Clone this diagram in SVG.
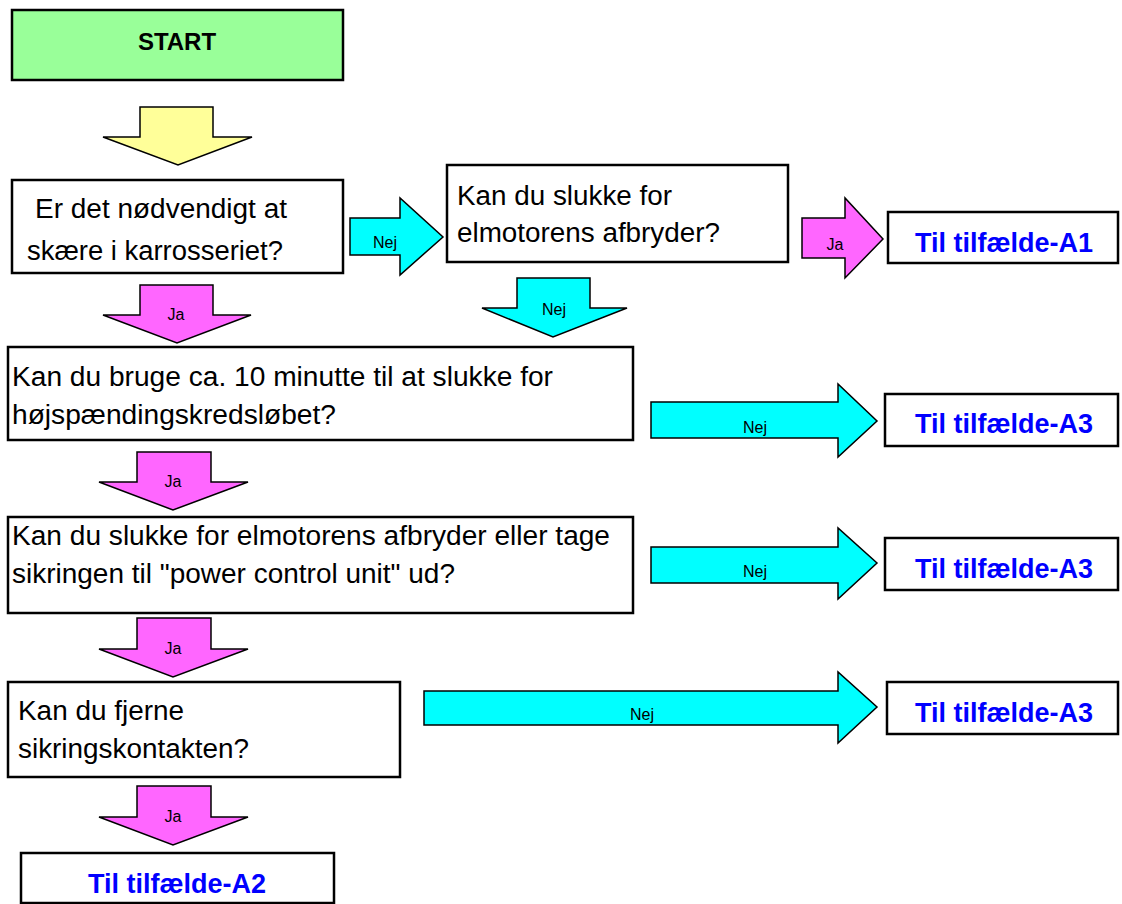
<svg xmlns="http://www.w3.org/2000/svg" width="1122" height="904" viewBox="0 0 1122 904">
<style>
.box{fill:#fff;stroke:#000;stroke-width:2.5}
.start{fill:#99ff99;stroke:#000;stroke-width:2.5}
.t{font-family:"Liberation Sans",Arial,sans-serif;font-size:27px;fill:#000}
.st{font-family:"Liberation Sans",Arial,sans-serif;font-size:24px;font-weight:bold;fill:#000;text-anchor:middle}
.res{font-family:"Liberation Sans",Arial,sans-serif;font-size:27px;font-weight:bold;fill:#0000ff;text-anchor:middle}
.lbl{font-family:"Liberation Sans",Arial,sans-serif;font-size:16px;fill:#000;text-anchor:middle}
.yel{fill:#ffff99;stroke:#000;stroke-width:1.5}
.mag{fill:#ff66ff;stroke:#000;stroke-width:1.5}
.cyn{fill:#00ffff;stroke:#000;stroke-width:1.5}
</style>
<g id="connectors">
  <polygon class="yel" points="140,107 213,107 213,137 252,137 178,165 103,137 140,137"/>
  <polygon class="mag" points="140,285 213,285 213,315 251,315 177,343 103,315 140,315"/>
  <text class="lbl" x="176" y="320">Ja</text>
  <polygon class="cyn" points="350,218 400,218 400,198 443,237 400,275 400,255 350,255"/>
  <text class="lbl" x="385" y="248">Nej</text>
  <polygon class="mag" points="802,218 845,218 845,198 883,239 845,278 845,258 802,258"/>
  <text class="lbl" x="835" y="250">Ja</text>
  <polygon class="cyn" points="517,278 590,278 590,308 627,308 553,337 482,308 517,308"/>
  <text class="lbl" x="554" y="315">Nej</text>
  <polygon class="cyn" points="651,402 838,402 838,384 877,421 838,457 838,438 651,438"/>
  <text class="lbl" x="755" y="433">Nej</text>
  <polygon class="mag" points="137,452 211,452 211,482 248,482 173,510 99,482 137,482"/>
  <text class="lbl" x="173" y="487">Ja</text>
  <polygon class="cyn" points="651,547 838,547 838,528 877,563 838,599 838,583 651,583"/>
  <text class="lbl" x="755" y="577">Nej</text>
  <polygon class="mag" points="137,618 211,618 211,649 248,649 173,677 99,649 137,649"/>
  <text class="lbl" x="173" y="654">Ja</text>
  <polygon class="cyn" points="424,691 838,691 838,672 877,707 838,743 838,725 424,725"/>
  <text class="lbl" x="642" y="720">Nej</text>
  <polygon class="mag" points="137,786 211,786 211,817 248,817 173,845 99,817 137,817"/>
  <text class="lbl" x="173" y="822">Ja</text>
</g>
<g id="start">
  <rect class="start" x="12" y="10" width="331" height="70"/>
  <text class="st" x="177" y="50">START</text>
</g>
<g id="q1">
  <rect class="box" x="12" y="180" width="331" height="93"/>
  <text class="t" x="35" y="218" textLength="252" lengthAdjust="spacingAndGlyphs">Er det nødvendigt at</text>
  <text class="t" x="27" y="260" textLength="256" lengthAdjust="spacingAndGlyphs">skære i karrosseriet?</text>
</g>
<g id="q2">
  <rect class="box" x="447" y="165" width="341" height="97"/>
  <text class="t" x="457" y="205" textLength="215" lengthAdjust="spacingAndGlyphs">Kan du slukke for</text>
  <text class="t" x="457" y="242" textLength="263" lengthAdjust="spacingAndGlyphs">elmotorens afbryder?</text>
</g>
<g id="a1">
  <rect class="box" x="888" y="212" width="230" height="51"/>
  <text class="res" x="1004" y="252">Til tilfælde-A1</text>
</g>
<g id="q3">
  <rect class="box" x="8" y="347" width="625" height="93"/>
  <text class="t" x="12" y="386" textLength="541" lengthAdjust="spacingAndGlyphs">Kan du bruge ca. 10 minutte til at slukke for</text>
  <text class="t" x="12" y="424" textLength="324" lengthAdjust="spacingAndGlyphs">højspændingskredsløbet?</text>
</g>
<g id="a3a">
  <rect class="box" x="885" y="394" width="233" height="52"/>
  <text class="res" x="1004" y="433">Til tilfælde-A3</text>
</g>
<g id="q4">
  <rect class="box" x="8" y="517" width="625" height="96"/>
  <text class="t" x="12" y="545" textLength="598" lengthAdjust="spacingAndGlyphs">Kan du slukke for elmotorens afbryder eller tage</text>
  <text class="t" x="12" y="583" textLength="443" lengthAdjust="spacingAndGlyphs">sikringen til "power control unit" ud?</text>
</g>
<g id="a3b">
  <rect class="box" x="885" y="538" width="233" height="52"/>
  <text class="res" x="1004" y="578">Til tilfælde-A3</text>
</g>
<g id="q5">
  <rect class="box" x="8" y="682" width="392" height="95"/>
  <text class="t" x="18" y="720" textLength="166" lengthAdjust="spacingAndGlyphs">Kan du fjerne</text>
  <text class="t" x="18" y="758" textLength="231" lengthAdjust="spacingAndGlyphs">sikringskontakten?</text>
</g>
<g id="a3c">
  <rect class="box" x="887" y="682" width="231" height="52"/>
  <text class="res" x="1004" y="722">Til tilfælde-A3</text>
</g>
<g id="a2">
  <rect class="box" x="21" y="853" width="313" height="50"/>
  <text class="res" x="177" y="893">Til tilfælde-A2</text>
</g>
</svg>
